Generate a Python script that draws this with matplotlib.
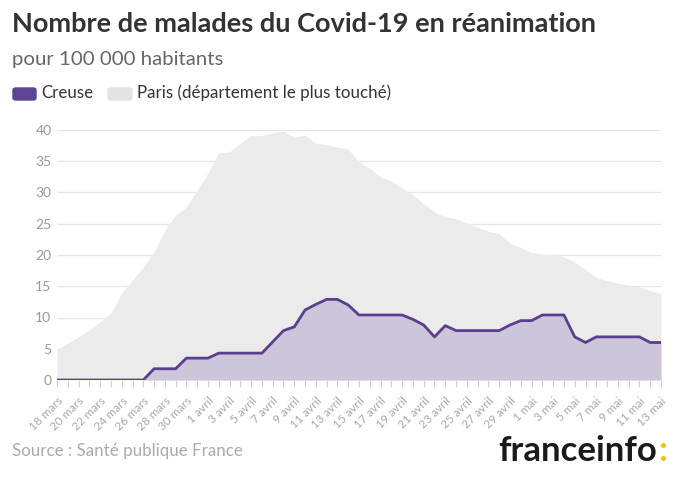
import matplotlib
matplotlib.use("Agg")
import matplotlib.pyplot as plt
from matplotlib.patches import FancyBboxPatch

plt.rcParams['font.family'] = ['Lato', 'DejaVu Sans']

# dates, one per day from 18 mars to 13 mai
months = ["mars"] * 14 + ["avril"] * 30 + ["mai"] * 13
days = list(range(18, 32)) + list(range(1, 31)) + list(range(1, 14))
labels = [f"{d} {m}" for d, m in zip(days, months)]

paris = [4.9, 5.9, 6.9, 8.0, 9.3, 10.7, 13.9, 16.0, 18.1, 20.5,
         24.0, 26.4, 27.7, 30.4, 33.1, 36.4, 36.5, 37.9, 39.1, 39.1,
         39.6, 39.8, 38.8, 39.2, 37.9, 37.6, 37.3, 36.9, 34.9, 33.9,
         32.5, 31.8, 30.7, 29.6, 28.2, 26.9, 26.1, 25.8, 25.1, 24.4,
         23.8, 23.4, 21.9, 21.2, 20.4, 20.1, 20.1, 19.7, 18.9, 17.6,
         16.4, 15.9, 15.5, 15.2, 14.9, 14.3, 13.8]

creuse = [0, 0, 0, 0, 0, 0, 0, 0, 0, 1.8,
          1.8, 1.8, 3.5, 3.5, 3.5, 4.3, 4.3, 4.3, 4.3, 4.3,
          6.1, 7.9, 8.5, 11.2, 12.1, 12.9, 12.9, 12.0, 10.4, 10.4,
          10.4, 10.4, 10.4, 9.7, 8.8, 6.9, 8.7, 7.9, 7.9, 7.9,
          7.9, 7.9, 8.8, 9.5, 9.5, 10.4, 10.4, 10.4, 6.9, 6.0,
          6.9, 6.9, 6.9, 6.9, 6.9, 6.0, 6.0]

x = list(range(len(labels)))

purple = '#5a3f8e'
lavender = '#cdc5da'
light = '#ebebeb'

fig = plt.figure(figsize=(6.8, 4.8), dpi=100)
ax = fig.add_axes([57 / 680, 100 / 480, 604 / 680, 250 / 480])

ax.fill_between(x, paris, 0, color=light, lw=0, zorder=2)
ax.fill_between(x, creuse, 0, color=lavender, lw=0, zorder=3)
ax.plot(x, creuse, color=purple, lw=2, zorder=4, solid_joinstyle='round')

ax.set_xlim(0, len(x) - 1)
ax.set_ylim(0, 40)
ax.set_yticks(range(0, 41, 5))
ax.grid(axis='y', color='#e6e6e6', lw=1, zorder=1)
for s in ax.spines.values():
    s.set_visible(False)

ax.set_xticks(x[::2])
ax.set_xticklabels(labels[::2], rotation=45, ha='right', rotation_mode='anchor')
ax.set_xticks(x, minor=True)
ax.tick_params(axis='x', which='both', colors='#d0d0d0', labelcolor='#a8a8a8',
               labelsize=8.5, length=5, width=0.8, pad=6)
ax.tick_params(axis='y', length=0, labelcolor='#999999', labelsize=10, pad=4)

# titles and legend
fig.text(12 / 680, 1 - 24 / 480, "Nombre de malades du Covid-19 en réanimation",
         fontsize=19.5, fontweight='bold', color='#333333', va='center')
fig.text(12 / 680, 1 - 60 / 480, "pour 100 000 habitants",
         fontsize=14.7, color='#666666', va='center')

fig.patches.append(FancyBboxPatch((13 / 680, 1 - 100 / 480), 23 / 680, 12 / 480,
                                  boxstyle='round,pad=0,rounding_size=0.004',
                                  transform=fig.transFigure, color='#5d4494'))
fig.text(41 / 680, 1 - 93 / 480, "Creuse", fontsize=12.2, color='#333333', va='center')
fig.patches.append(FancyBboxPatch((108 / 680, 1 - 100 / 480), 24 / 680, 12 / 480,
                                  boxstyle='round,pad=0,rounding_size=0.004',
                                  transform=fig.transFigure, color='#e3e3e3'))
fig.text(137 / 680, 1 - 93 / 480, "Paris (département le plus touché)",
         fontsize=12.2, color='#333333', va='center')

fig.text(12 / 680, 1 - 451 / 480, "Source : Santé publique France",
         fontsize=12.2, color='#aaaaaa', va='center')

fig.text(657 / 680, 1 - 461 / 480, "franceinfo", fontsize=25, fontweight='bold',
         color='#1a1a1a', va='baseline', ha='right')
fig.text(658 / 680, 1 - 461 / 480, ":", fontsize=25, fontweight='bold',
         color='#f5c400', va='baseline', ha='left')

fig.savefig("out.png", dpi=100)
